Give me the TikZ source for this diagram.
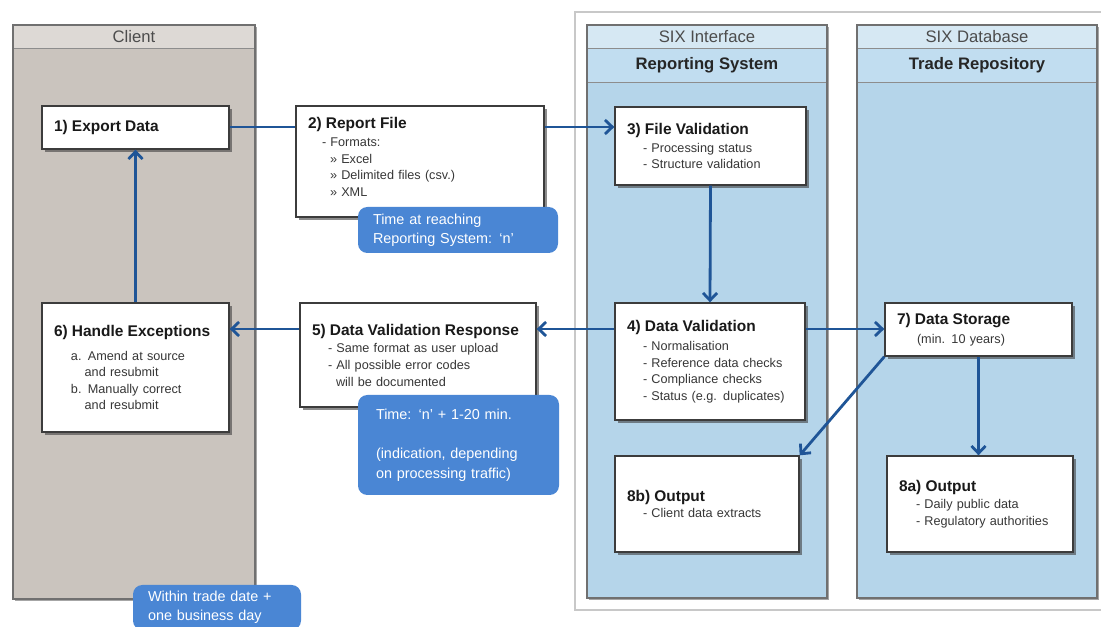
\documentclass[tikz,border=0pt]{standalone}
\usepackage{fontspec}
\setmainfont{Liberation Sans}
\usetikzlibrary{arrows.meta,shadows}
\definecolor{arrowblue}{RGB}{31,85,151}
\definecolor{calloutblue}{RGB}{74,134,212}
\definecolor{clientbody}{RGB}{202,196,190}
\definecolor{clienthead}{RGB}{221,217,213}
\definecolor{bluebody}{RGB}{181,213,234}
\definecolor{bluehead}{RGB}{214,232,243}
\definecolor{bluesub}{RGB}{193,221,240}
\definecolor{laneborder}{RGB}{112,112,112}
\definecolor{boxborder}{RGB}{60,60,60}
\definecolor{frameline}{RGB}{200,200,200}
\definecolor{itemgray}{RGB}{55,55,55}
\newcommand{\boxtitle}[1]{{\fontsize{11.6}{13}\selectfont\bfseries\color{black!90}#1}}
\tikzset{
  box/.style={draw=boxborder, line width=1pt, fill=white, align=left,
    inner xsep=9pt, inner ysep=0pt,
    drop shadow={shadow xshift=2.2pt, shadow yshift=-2.2pt, opacity=0.6, fill=black!75},
    font=\fontsize{9.5}{12.4}\selectfont, text=itemgray},
  callout/.style={fill=calloutblue, rounded corners=7pt, text=white, align=left,
    font=\fontsize{10.8}{14.5}\selectfont, inner ysep=0pt},
  lane/.style={draw=laneborder, line width=1.5pt},
  lanesep/.style={draw=laneborder!80, line width=0.7pt},
  laneshadow/.style={drop shadow={shadow xshift=1.5pt, shadow yshift=-1.5pt, opacity=0.35, fill=black}},
  flowline/.style={draw=arrowblue, line width=2.1pt},
  flow/.style={flowline, -{Straight Barb[length=5.5pt,width=10.5pt]}},
  lanehead/.style={font=\fontsize{12.5}{14}\selectfont, text=black!70},
  lanesub/.style={font=\fontsize{12.5}{14}\selectfont\bfseries, text=black!85},
}
\begin{document}
\begin{tikzpicture}[x=0.75pt, y=-0.75pt]
\useasboundingbox (0,0) rectangle (1101,627);
\clip (0,0) rectangle (1101,627);
\fill[white] (0,0) rectangle (1101,627);

% outer frame
\draw[frameline, line width=0.8pt] (1101,12) -- (575,12) -- (575,610) -- (1101,610);

% Client lane
\path[fill=clientbody, laneshadow] (13,25) rectangle (255,599);
\fill[clienthead] (13,25) rectangle (255,48);
\draw[lanesep] (13,48) -- (255,48);
\draw[lane] (13,25) rectangle (255,599);
\node[lanehead] (clienthead) at (134,36.5) {Client};

% SIX Interface lane
\path[fill=bluebody, laneshadow] (587,25) rectangle (827,598);
\fill[bluehead] (587,25) rectangle (827,48);
\fill[bluesub] (587,48) rectangle (827,82);
\draw[lanesep] (587,48) -- (827,48);
\draw[lanesep] (587,82) -- (827,82);
\draw[lane] (587,25) rectangle (827,598);
\node[lanehead] (sixif) at (707,36.5) {SIX Interface};
\node[lanesub] (repsys) at (707,65) {Reporting System};

% SIX Database lane
\path[fill=bluebody, laneshadow] (857,25) rectangle (1097,598);
\fill[bluehead] (857,25) rectangle (1097,48);
\fill[bluesub] (857,48) rectangle (1097,82);
\draw[lanesep] (857,48) -- (1097,48);
\draw[lanesep] (857,82) -- (1097,82);
\draw[lane] (857,25) rectangle (1097,598);
\node[lanehead] (sixdb) at (977,36.5) {SIX Database};
\node[lanesub] (traderepo) at (977,65) {Trade Repository};

% boxes
\node[box, text width=122.25pt, minimum height=32.25pt] (export) at (135.5,127.5)
  {\boxtitle{1) Export Data}};

\node[box, text width=168pt, minimum height=83.25pt] (report) at (420,161.5)
  {\boxtitle{2) Report File}\\[1.5pt]
   \hspace*{10.5pt}- Formats:\\
   \hspace*{16.5pt}» Excel\\
   \hspace*{16.5pt}» Delimited files (csv.)\\
   \hspace*{16.5pt}» XML\\[-5pt]\mbox{}};

\node[box, text width=125.25pt, minimum height=58.5pt] (fileval) at (710.5,146)
  {\boxtitle{3) File Validation}\\[1pt]
   \hspace*{12pt}- Processing status\\
   \hspace*{12pt}- Structure validation};

\node[box, text width=124.5pt, minimum height=87.75pt] (dataval) at (710,361.5)
  {\boxtitle{4) Data Validation}\\[2pt]
   \hspace*{12pt}- Normalisation\\
   \hspace*{12pt}- Reference data checks\\
   \hspace*{12pt}- Compliance checks\\
   \hspace*{12pt}- Status (e.g. duplicates)};

\node[box, text width=159pt, minimum height=78pt] (resp) at (418,355)
  {\boxtitle{5) Data Validation Response}\\[1pt]
   \hspace*{12pt}- Same format as user upload\\
   \hspace*{12pt}- All possible error codes\\
   \hspace*{18pt}will be documented};

\node[box, text width=122.25pt, minimum height=96.75pt] (handle) at (135.5,367.5)
  {\boxtitle{6) Handle Exceptions}\\[5.5pt]
   \hspace*{12.75pt}a. Amend at source\\
   \hspace*{23pt}and resubmit\\
   \hspace*{12.75pt}b. Manually correct\\
   \hspace*{23pt}and resubmit};

\node[box, text width=122.25pt, minimum height=39.75pt] (storage) at (978.5,329.5)
  {\boxtitle{7) Data Storage}\\[2pt]
   \hspace*{15pt}(min. 10 years)};

\node[box, text width=120pt, minimum height=72pt] (out8b) at (707,504)
  {\boxtitle{8b) Output}\\
   \hspace*{12pt}- Client data extracts};

\node[box, text width=121.5pt, minimum height=72pt] (out8a) at (980,504)
  {\boxtitle{8a) Output}\\[1pt]
   \hspace*{12.75pt}- Daily public data\\
   \hspace*{12.75pt}- Regulatory authorities};

% connectors
\coordinate (r1) at (0,127);
\coordinate (r2) at (0,329);
\draw[flowline] (export.east |- r1) -- (report.west |- r1);
\draw[flow] (report.east |- r1) -- (fileval.west |- r1);
\draw[flow] (fileval.south) -- (dataval.north);
\draw[flow] (dataval.west |- r2) -- (resp.east |- r2);
\draw[flow] (resp.west |- r2) -- (handle.east |- r2);
\draw[flow] (dataval.east |- r2) -- (storage.west |- r2);
\draw[flow] (storage.south) -- (storage.south |- out8a.north);
\draw[flow] (storage.south west) -- (out8b.north east);
\draw[flow] (handle.north) -- (export.south);

% callouts
\node[callout, text width=127.5pt, inner xsep=11.25pt, minimum height=34.5pt] (c1) at (458,230)
  {Time at reaching\\Reporting System: `n'};
\node[callout, text width=123.75pt, inner xsep=13.5pt, minimum height=75pt] (c2) at (458.5,445)
  {Time: `n' + 1-20 min.\\[15pt](indication, depending\\on processing traffic)};
\node[callout, text width=103.5pt, inner xsep=11.25pt, minimum height=33.75pt] (c3) at (217,607.5)
  {Within trade date +\\one business day};
\end{tikzpicture}
\end{document}
